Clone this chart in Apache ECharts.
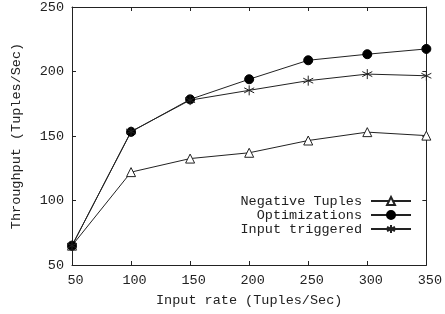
<!DOCTYPE html>
<html>
<head>
<meta charset="utf-8">
<script src="https://cdn.jsdelivr.net/npm/echarts@6/dist/echarts.min.js"></script>
<style>
  html, body { margin: 0; padding: 0; background: #fff; }
  #chart { width: 445px; height: 314px; }
</style>
</head>
<body>
<div id="chart"></div>
<script>
var inputRates = [50, 100, 150, 200, 250, 300, 350];
var negativeTuples = [65, 122, 132.5, 137, 146.5, 153, 150.3];
var optimizations = [65, 153.2, 178.4, 194, 208.7, 213.4, 217.5];
var inputTriggered = [65, 153.5, 177.8, 185.4, 192.9, 198, 196.7];

var fontName = 'Liberation Mono';
var ink = '#222';
var asterisk = 'path://M0,-5L0,5M-4.33,-2.5L4.33,2.5M-4.33,2.5L4.33,-2.5';

function pairs(vals) {
    return vals.map(function (v, i) { return [inputRates[i], v]; });
}

var frameAxis = {
    axisLine: { show: true, lineStyle: { color: ink, width: 1 } },
    axisTick: { show: true, inside: true, length: 4, lineStyle: { color: ink } },
    splitLine: { show: false }
};

var option = {
    backgroundColor: '#fff',
    animation: false,
    textStyle: { fontFamily: fontName },
    grid: { left: 72, right: 14, top: 6, bottom: 49 },
    legend: {
        orient: 'vertical',
        align: 'right',
        right: 33,
        top: 194,
        padding: 0,
        itemWidth: 40,
        itemHeight: 10,
        itemGap: 0,
        textStyle: { fontFamily: fontName, fontSize: 13.5, color: ink, lineHeight: 14, padding: [0, 4, 0, 0] },
        data: ['Negative Tuples', 'Optimizations', 'Input triggered']
    },
    xAxis: [
        Object.assign({}, frameAxis, {
            type: 'value', min: 50, max: 350, interval: 50,
            name: 'Input rate (Tuples/Sec)', nameLocation: 'middle', nameGap: 28,
            nameTextStyle: { fontFamily: fontName, fontSize: 13.5, color: ink },
            axisLabel: { fontFamily: fontName, fontSize: 13.5, color: ink, margin: 8, padding: [0, 0, 0, 7] }
        }),
        Object.assign({}, frameAxis, {
            type: 'value', min: 50, max: 350, interval: 50, position: 'top',
            axisLabel: { show: false }
        })
    ],
    yAxis: [
        Object.assign({}, frameAxis, {
            type: 'value', min: 50, max: 250, interval: 50,
            name: 'Throughput (Tuples/Sec)', nameLocation: 'middle', nameGap: 49,
            nameRotate: 90,
            nameTextStyle: { fontFamily: fontName, fontSize: 13.5, color: ink },
            axisLabel: { fontFamily: fontName, fontSize: 13.5, color: ink, margin: 8 }
        }),
        Object.assign({}, frameAxis, {
            type: 'value', min: 50, max: 250, interval: 50, position: 'right',
            axisLabel: { show: false }
        })
    ],
    series: [
        {
            name: 'Negative Tuples', type: 'line', data: pairs(negativeTuples),
            symbol: 'triangle', symbolSize: 9,
            lineStyle: { color: ink, width: 1 },
            itemStyle: { color: '#fff', borderColor: ink, borderWidth: 1 }
        },
        {
            name: 'Optimizations', type: 'line', data: pairs(optimizations),
            symbol: 'circle', symbolSize: 9,
            lineStyle: { color: ink, width: 1 },
            itemStyle: { color: '#000', borderColor: '#000', borderWidth: 1 }
        },
        {
            name: 'Input triggered', type: 'line', data: pairs(inputTriggered),
            symbol: asterisk, symbolSize: 10,
            lineStyle: { color: ink, width: 1 },
            itemStyle: { color: 'none', borderColor: ink, borderWidth: 1 }
        }
    ]
};

var chart = echarts.init(document.getElementById('chart'));
chart.setOption(option);
</script>
</body>
</html>
